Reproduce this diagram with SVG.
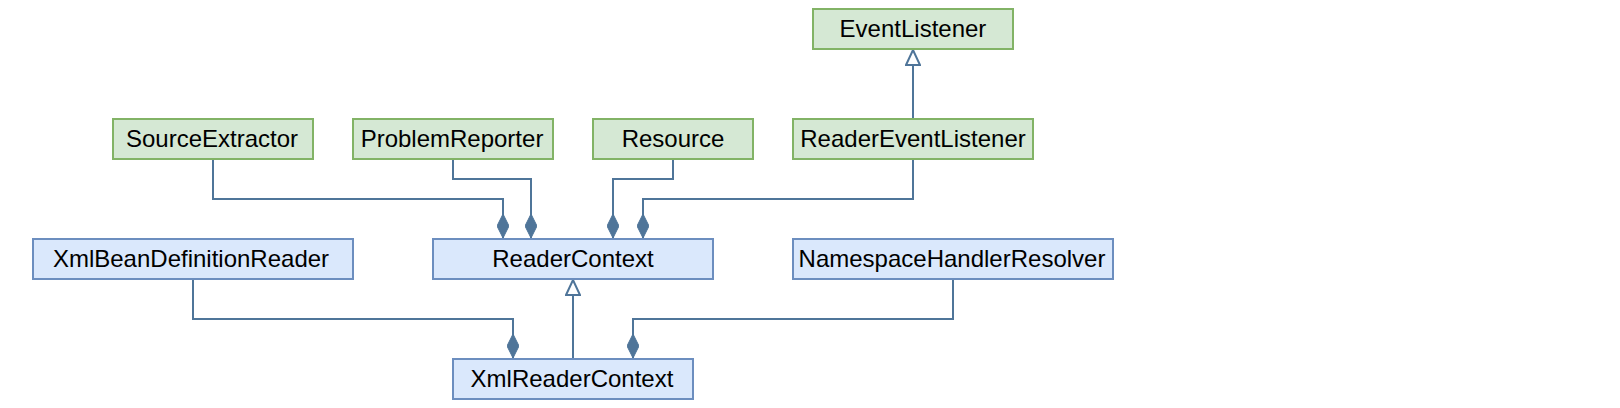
<svg xmlns="http://www.w3.org/2000/svg" width="1620" height="408" viewBox="0 0 1620 408">
<style>
.g{fill:#d5e8d4;stroke:#82b366;stroke-width:2}
.b{fill:#dae8fc;stroke:#6c8ebf;stroke-width:2}
.t{font-family:"Liberation Sans",Arial,Helvetica,sans-serif;font-size:24px;fill:#000;text-anchor:middle}
.c{fill:none;stroke:#4f7599;stroke-width:2}
</style>
<defs>
<marker id="dia" viewBox="0 0 24 12" refX="24" refY="6" markerWidth="24" markerHeight="12" markerUnits="userSpaceOnUse" orient="auto">
<path d="M0,6 L12,0 L24,6 L12,12 Z" fill="#4f7599" stroke="#4f7599" stroke-width="1"/>
</marker>
<marker id="tri" viewBox="0 0 17 16" refX="16" refY="8" markerWidth="17" markerHeight="16" markerUnits="userSpaceOnUse" orient="auto">
<path d="M1,1 L16,8 L1,15 Z" fill="#fff" stroke="#4f7599" stroke-width="2"/>
</marker>
</defs>
<rect width="1620" height="408" fill="#fff"/>
<g id="connectors">
<path class="c" d="M213,159 V199 H503 V238" marker-end="url(#dia)"/>
<path class="c" d="M453,159 V179 H531 V238" marker-end="url(#dia)"/>
<path class="c" d="M673,159 V179 H613 V238" marker-end="url(#dia)"/>
<path class="c" d="M913,159 V199 H643 V238" marker-end="url(#dia)"/>
<path class="c" d="M913,119 V50" marker-end="url(#tri)"/>
<path class="c" d="M193,279 V319 H513 V358" marker-end="url(#dia)"/>
<path class="c" d="M573,359 V280" marker-end="url(#tri)"/>
<path class="c" d="M953,279 V319 H633 V358" marker-end="url(#dia)"/>
</g>
<g id="EventListener"><rect class="g" x="813" y="9" width="200" height="40"/><text class="t" x="913" y="37">EventListener</text></g>
<g id="SourceExtractor"><rect class="g" x="113" y="119" width="200" height="40"/><text class="t" x="212" y="147">SourceExtractor</text></g>
<g id="ProblemReporter"><rect class="g" x="353" y="119" width="200" height="40"/><text class="t" x="452" y="147">ProblemReporter</text></g>
<g id="Resource"><rect class="g" x="593" y="119" width="160" height="40"/><text class="t" x="673" y="147">Resource</text></g>
<g id="ReaderEventListener"><rect class="g" x="793" y="119" width="240" height="40"/><text class="t" x="913" y="147">ReaderEventListener</text></g>
<g id="XmlBeanDefinitionReader"><rect class="b" x="33" y="239" width="320" height="40"/><text class="t" x="191" y="267">XmlBeanDefinitionReader</text></g>
<g id="ReaderContext"><rect class="b" x="433" y="239" width="280" height="40"/><text class="t" x="573" y="267">ReaderContext</text></g>
<g id="NamespaceHandlerResolver"><rect class="b" x="793" y="239" width="320" height="40"/><text class="t" x="952" y="267">NamespaceHandlerResolver</text></g>
<g id="XmlReaderContext"><rect class="b" x="453" y="359" width="240" height="40"/><text class="t" x="572" y="387">XmlReaderContext</text></g>
</svg>
